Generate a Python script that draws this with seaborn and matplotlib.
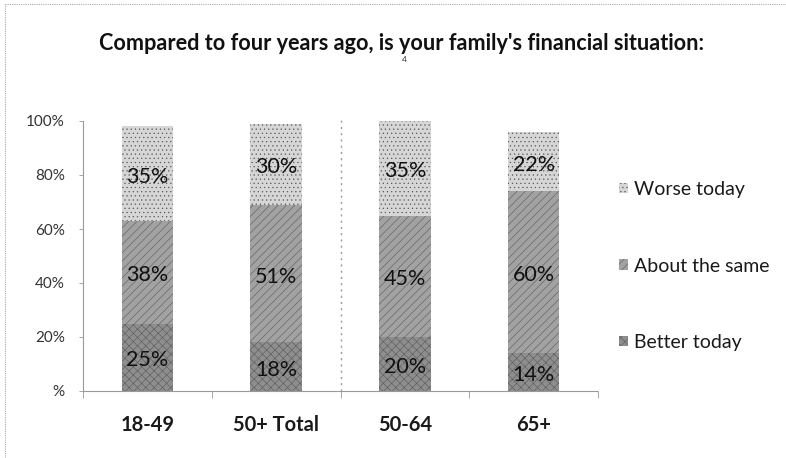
import matplotlib
matplotlib.use("Agg")
import matplotlib.pyplot as plt
from matplotlib.lines import Line2D
from matplotlib.patches import Patch
import numpy as np
import pandas as pd
import seaborn as sns

# Survey answers by age group (percent of respondents)
groups = ["18-49", "50+ Total", "50-64", "65+"]
better = [25, 18, 20, 14]
same = [38, 51, 45, 60]
worse = [35, 30, 35, 22]

series_names = ["Better today", "About the same", "Worse today"]
series_values = [better, same, worse]
series_colors = ["#8e8e8e", "#a2a2a2", "#d6d6d6"]
series_hatch = ["xxxx", "////", "...."]

y_ticks = [0, 20, 40, 60, 80, 100]
y_labels = ["%", "20%", "40%", "60%", "80%", "100%"]

title = "Compared to four years ago, is your family's financial situation:"

sns.set_theme(style="white")
plt.rcParams["font.family"] = ["Lato", "DejaVu Sans"]
plt.rcParams["hatch.linewidth"] = 0.4

W, H = 786, 458
fig = plt.figure(figsize=(W / 100, H / 100), dpi=100)
ax = fig.add_axes([83 / W, 1 - 391 / H, (598 - 83) / W, 270 / H])

df = pd.DataFrame({"group": groups, "better": better, "same": same, "worse": worse})
df["cum_same"] = df["better"] + df["same"]
df["cum_worse"] = df["cum_same"] + df["worse"]

# Stacked bars: draw cumulative totals from the top segment down
layers = [("cum_worse", 2), ("cum_same", 1), ("better", 0)]
for col, idx in layers:
    n_before = len(ax.patches)
    sns.barplot(data=df, x="group", y=col, color=series_colors[idx],
                width=0.4, ax=ax, saturation=1, errorbar=None)
    for p in ax.patches[n_before:]:
        p.set_hatch(series_hatch[idx])
        p.set_edgecolor("#5a5a5a")
        p.set_linewidth(0)

# Value labels at the middle of each segment
bottoms = np.zeros(len(groups))
for vals in series_values:
    vals = np.array(vals, dtype=float)
    for i, v in enumerate(vals):
        ax.text(i, bottoms[i] + v / 2 - 1.2, f"{int(v)}%", ha="center", va="center",
                fontsize=15.5, color="#111111", zorder=5)
    bottoms += vals

# Separator between the 50+ total and the sub-groups
ax.plot([1.5, 1.5], [0, 101], color="#999999", lw=1.0,
        linestyle=(0, (1.5, 3)), zorder=1, clip_on=False)

ax.set_xlim(-0.5, 3.5)
ax.set_ylim(0, 100)
ax.set_xlabel("")
ax.set_ylabel("")

ax.set_yticks(y_ticks)
ax.set_yticklabels(y_labels)
ax.tick_params(axis="y", length=3, width=0.6, color="#999999", pad=10,
               labelsize=11, labelcolor="#333333", left=True)

ax.set_xticks(range(len(groups)))
ax.set_xticklabels(groups, fontweight="bold")
ax.tick_params(axis="x", which="major", length=0, pad=17, labelsize=14.5,
               labelcolor="#1a1a1a")
ax.set_xticks(np.arange(-0.5, len(groups), 1.0), minor=True)
ax.tick_params(axis="x", which="minor", length=5, width=0.6, color="#999999",
               bottom=True, direction="out")

for side in ["top", "right"]:
    ax.spines[side].set_visible(False)
for side in ["left", "bottom"]:
    ax.spines[side].set_color("#999999")
    ax.spines[side].set_linewidth(0.8)
    ax.spines[side].set_linestyle((0, (1, 1)))

handles = [Patch(facecolor=series_colors[i], hatch=series_hatch[i],
                 edgecolor="#5a5a5a", linewidth=0) for i in (2, 1, 0)]
labels = [series_names[i] for i in (2, 1, 0)]
fig.legend(handles, labels, loc="center left",
           bbox_to_anchor=(619 / W, 1 - 266 / H), frameon=False,
           fontsize=14, labelspacing=3.05, handlelength=0.45, handleheight=0.45,
           handletextpad=0.3, borderpad=0, borderaxespad=0,
           labelcolor="#1a1a1a")

fig.text(402 / W, 1 - 44 / H, title, ha="center", va="center",
         fontsize=15.6, fontweight="bold", color="#111111")
fig.text(404 / W, 1 - 60 / H, "4", ha="center", va="center",
         fontsize=6, color="#333333")

# Dotted frame around the chart area
fig.add_artist(Line2D([5 / W, 5 / W], [0, 1 - 4 / H], transform=fig.transFigure,
                      color="#aaaaaa", lw=0.8, linestyle=(0, (1, 1))))
fig.add_artist(Line2D([5 / W, 1], [1 - 4 / H, 1 - 4 / H], transform=fig.transFigure,
                      color="#aaaaaa", lw=0.8, linestyle=(0, (1, 1))))

fig.savefig("out.png", dpi=100)
